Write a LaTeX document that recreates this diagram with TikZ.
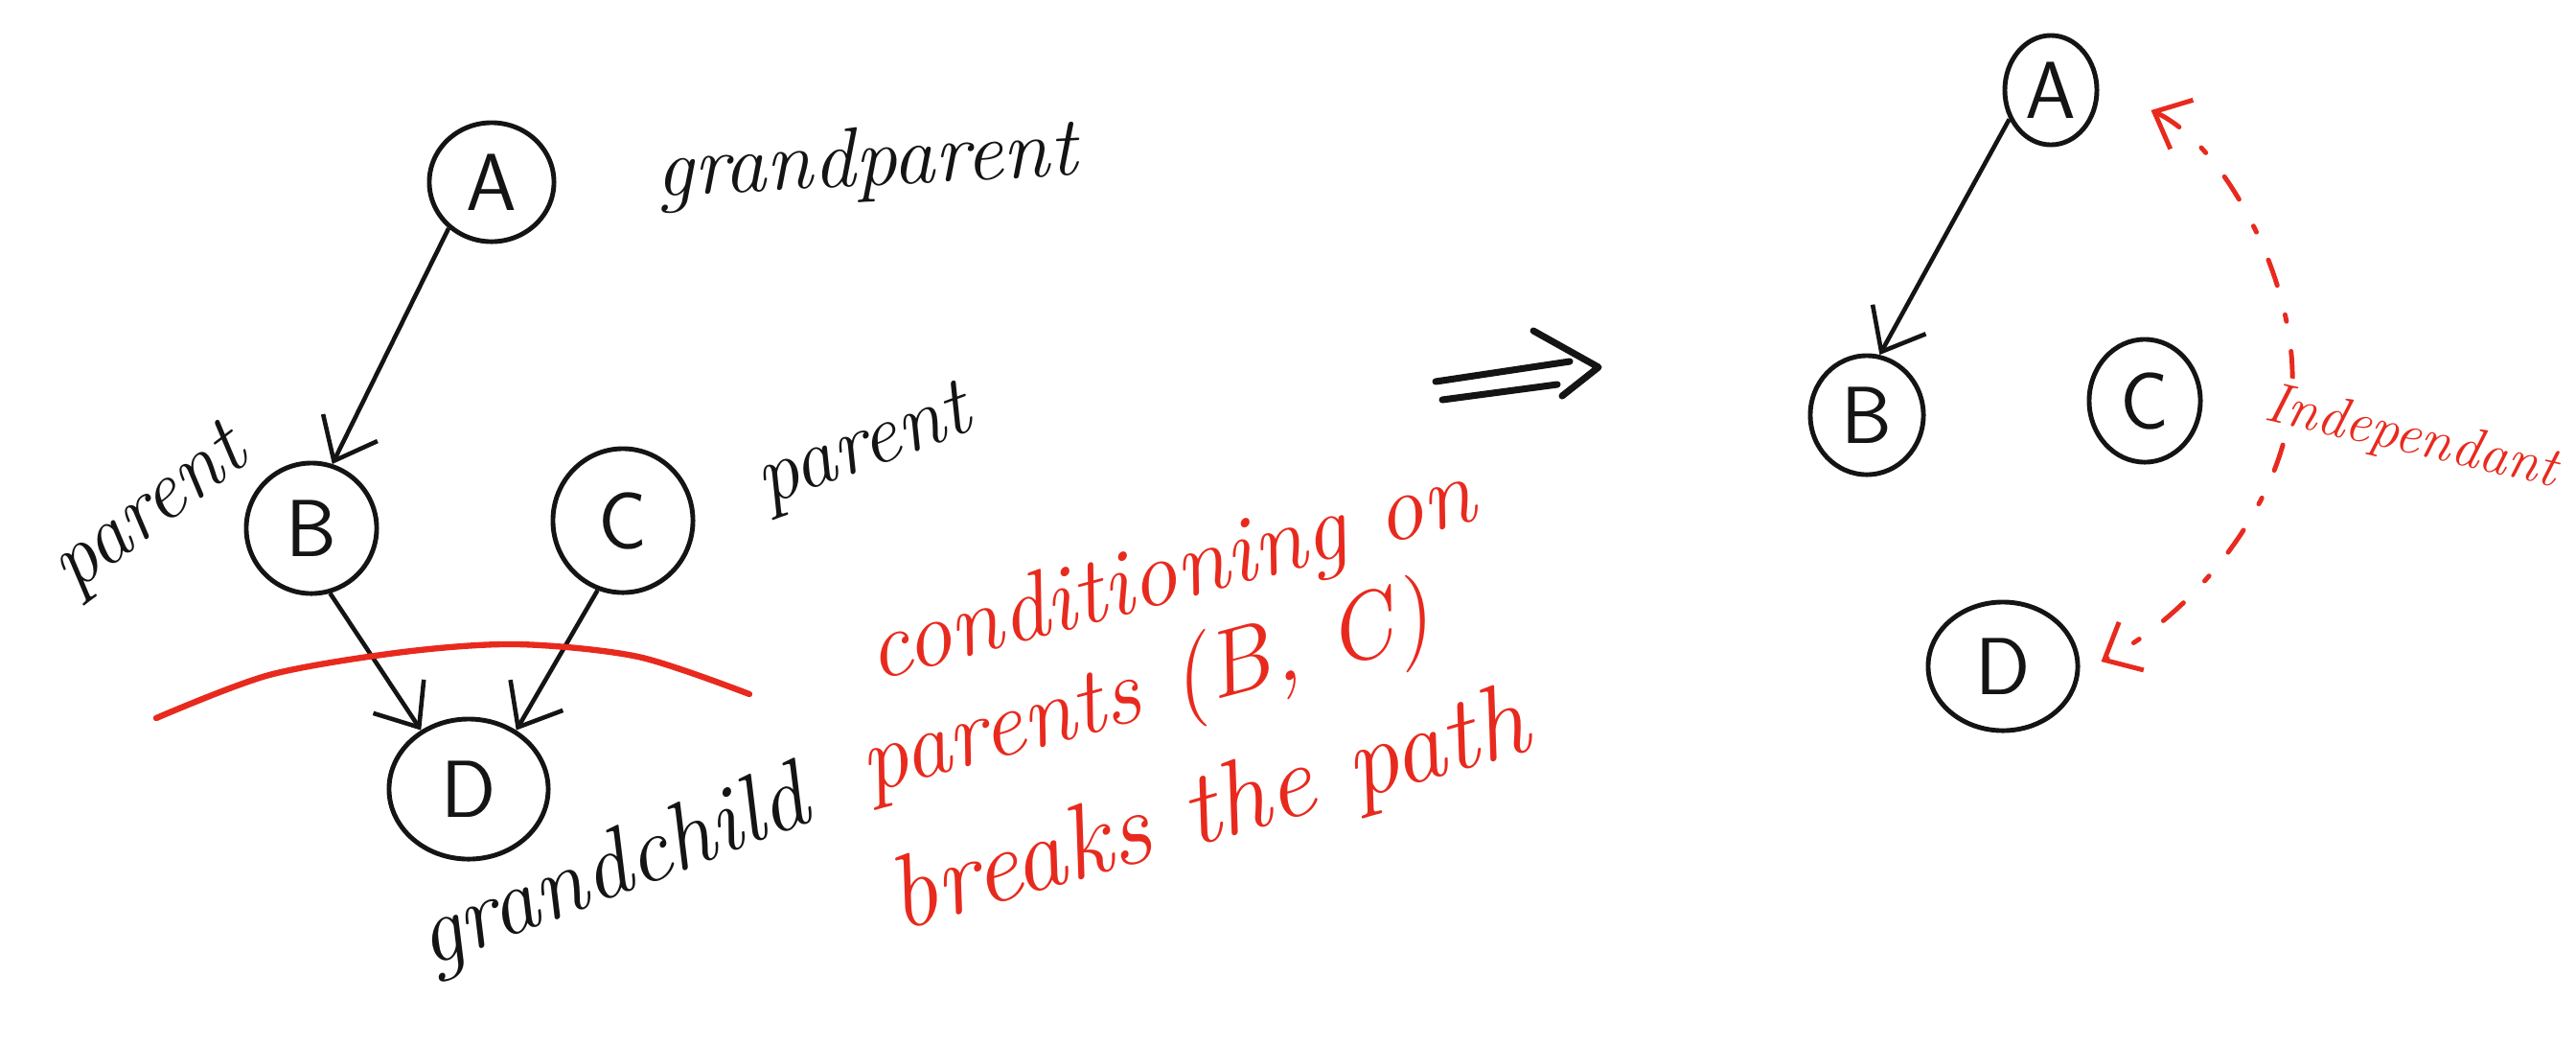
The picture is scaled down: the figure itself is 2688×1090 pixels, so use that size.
\documentclass[tikz,border=0pt]{standalone}
\usetikzlibrary{shapes.geometric,arrows.meta}
\definecolor{ink}{HTML}{141414}
\definecolor{redink}{HTML}{E82A1E}
\tikzset{
  gnode/.style={ellipse, draw=ink, line width=1.4pt, inner sep=0pt, text=ink,
    font=\fontsize{24}{24}\selectfont\sffamily},
  edge/.style={draw=ink, line width=1.3pt,
    -{Straight Barb[length=11pt,width=18pt,line width=1.3pt]}},
  lab/.style={font=\fontsize{25}{28}\selectfont\itshape, text=ink},
  rlab/.style={font=\fontsize{28}{30}\selectfont\itshape, text=redink},
  redcurve/.style={draw=redink, line width=1.8pt, line cap=round},
  reddash/.style={draw=redink, line width=1.4pt, line cap=round,
    dash pattern=on 8pt off 9pt on 2pt off 9pt,
    {Straight Barb[length=9pt,width=16pt,line width=1.4pt]}-{Straight Barb[length=9pt,width=16pt,line width=1.4pt]}},
  glyph/.style={draw=ink, line width=2pt, line cap=round, line join=round},
}
\begin{document}
\begin{tikzpicture}[x=0.01cm,y=-0.01cm]
\useasboundingbox[fill=white] (0,0) rectangle (2688,1090);

% ---------- left graph ----------
\node[gnode, minimum width=1.30cm, minimum height=1.24cm] (A) at (513,190) {A};
\node[gnode, minimum width=1.36cm, minimum height=1.36cm] (B) at (325,551) {B};
\node[gnode, minimum width=1.46cm, minimum height=1.50cm] (C) at (650,543) {C};
\node[gnode, minimum width=1.66cm, minimum height=1.46cm] (D) at (489,823) {D};

\draw[edge] (A.227) -- (B.72);
\draw[edge] (B.286) -- (D.129);
\draw[edge] (C.250) -- (D.51);

\draw[redcurve] plot[smooth] coordinates {(163,749) (281,704) (421,680) (540,672) (666,685) (782,724)};

\node[lab, rotate=3] (lgp) at (904,172) {grandparent};
\node[lab, rotate=37] (lpl) at (158,535) {parent};
\node[lab, rotate=20] (lpr) at (902,470) {parent};
\node[lab, rotate=21, font=\fontsize{28}{30}\selectfont\itshape] (lgc) at (640,910) {grandchild};

\node[rlab, rotate=15] (r1) at (1222,603) {conditioning on};
\node[rlab, rotate=15] (r2) at (1196,724) {parents (B, C)};
\node[rlab, rotate=16, font=\fontsize{31}{33}\selectfont\itshape] (r3) at (1262,850) {breaks the path};

% ---------- implies arrow ----------
\draw[glyph] (1498,398) -- (1638,377);
\draw[glyph] (1505,417) -- (1625,401);
\draw[glyph] (1600,345) -- (1668,383) -- (1630,413);

% ---------- right graph ----------
\node[gnode, minimum width=0.96cm, minimum height=1.14cm] (A2) at (2140,94) {A};
\node[gnode, minimum width=1.18cm, minimum height=1.24cm] (B2) at (1948,433) {B};
\node[gnode, minimum width=1.16cm, minimum height=1.28cm] (C2) at (2238,418) {C};
\node[gnode, minimum width=1.56cm, minimum height=1.34cm] (D2) at (2090,695) {D};

\draw[edge] (A2.215) -- (B2.78);

\draw[reddash] ([shift={(54,21)}]A2.east) .. controls (2320,150) and (2395,290) .. (2392,400)
  .. controls (2390,520) and (2290,640) .. ([shift={(22,-5)}]D2.east);

\node[rlab, rotate=-13, fill=white, inner sep=2pt, font=\fontsize{17}{20}\selectfont\itshape] (ind) at (2516,458) {Independant};
\end{tikzpicture}
\end{document}
